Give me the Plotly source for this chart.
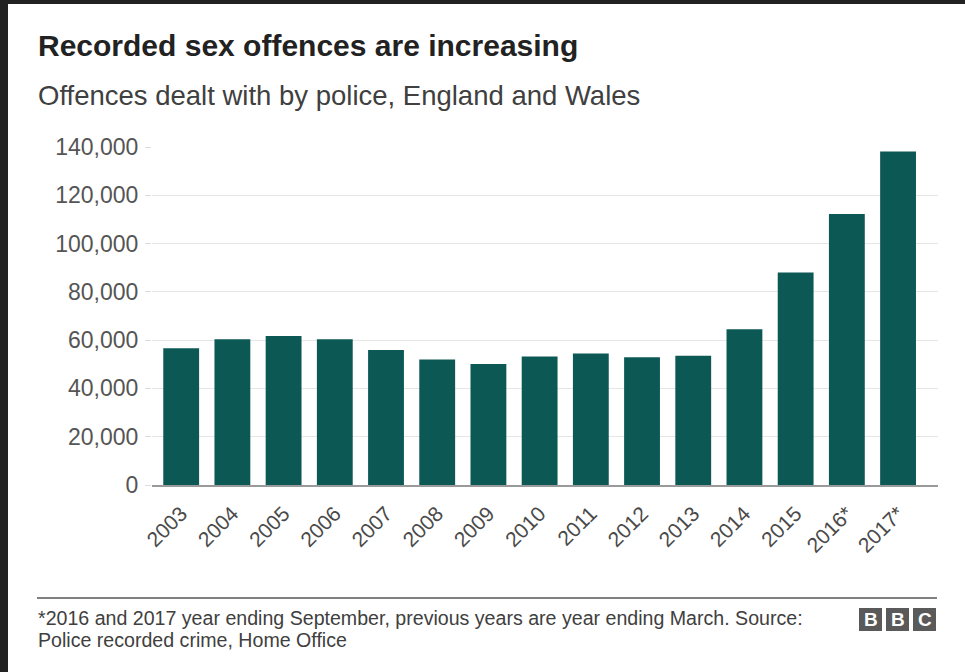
import plotly.graph_objects as go

years = ["2003", "2004", "2005", "2006", "2007", "2008", "2009", "2010",
         "2011", "2012", "2013", "2014", "2015", "2016*", "2017*"]
offences = [56600, 60400, 61700, 60400, 55900, 52000, 50100, 53200,
            54500, 52900, 53500, 64500, 88000, 112300, 138100]
y_ticks = [0, 20000, 40000, 60000, 80000, 100000, 120000, 140000]
y_tick_text = ["0", "20,000", "40,000", "60,000", "80,000", "100,000", "120,000", "140,000"]

W, H = 965, 672
L, R, T, B = 152, 27, 147, 187
PW, PH = W - L - R, H - T - B

def px(x):
    return (x - L) / PW

def py(y):
    return (H - B - y) / PH

BAR = "#0c5854"
FONT = "Liberation Sans, Arial, sans-serif"

fig = go.Figure(go.Bar(
    x=list(range(len(years))), y=offences,
    marker=dict(color=BAR, line=dict(width=0)),
    width=0.7, hoverinfo="skip",
))

fig.update_layout(
    width=W, height=H,
    margin=dict(l=L, r=R, t=T, b=B),
    paper_bgcolor="white", plot_bgcolor="white",
    showlegend=False,
    font=dict(family=FONT),
)
fig.update_xaxes(
    tickmode="array", tickvals=list(range(len(years))), ticktext=years,
    range=[-0.57, 14.78], tickangle=-45,
    tickfont=dict(size=21, color="#4a4a4a", family=FONT),
    ticklabelstandoff=6,
    showline=True, linecolor="#9a9a9a", linewidth=2,
    showgrid=False, ticks="", fixedrange=True,
)
fig.update_yaxes(
    tickmode="array", tickvals=y_ticks, ticktext=y_tick_text,
    range=[0, 140000],
    tickfont=dict(size=23, color="#555555", family=FONT),
    showgrid=True, gridcolor="#e6e6e6", gridwidth=1,
    ticks="outside", ticklen=6, tickcolor="#dddddd",
    ticklabelstandoff=2,
    zeroline=False, showline=False, fixedrange=True,
)

shapes = [
    # dark frame bands
    dict(type="rect", xref="paper", yref="paper", x0=px(0), x1=px(W), y0=py(0), y1=py(4),
         fillcolor="#222222", line=dict(width=0), layer="above"),
    dict(type="rect", xref="paper", yref="paper", x0=px(0), x1=px(8), y0=py(0), y1=py(H),
         fillcolor="#222222", line=dict(width=0), layer="above"),
    # footer rule
    dict(type="line", xref="paper", yref="paper", x0=px(37), x1=px(937), y0=py(598), y1=py(598),
         line=dict(color="#808080", width=2)),
]
annotations = [
    dict(text="<b>Recorded sex offences are increasing</b>", x=px(36), y=py(46),
         xref="paper", yref="paper", xanchor="left", yanchor="middle", showarrow=False,
         font=dict(size=30, color="#222222", family=FONT)),
    dict(text="Offences dealt with by police, England and Wales", x=px(36), y=py(95),
         xref="paper", yref="paper", xanchor="left", yanchor="middle", showarrow=False,
         font=dict(size=27.5, color="#404040", family=FONT)),
    dict(text="*2016 and 2017 year ending September, previous years are year ending March. Source:",
         x=px(36), y=py(618), xref="paper", yref="paper", xanchor="left", yanchor="middle",
         showarrow=False, font=dict(size=19.6, color="#404040", family=FONT)),
    dict(text="Police recorded crime, Home Office",
         x=px(36), y=py(640), xref="paper", yref="paper", xanchor="left", yanchor="middle",
         showarrow=False, font=dict(size=19.6, color="#404040", family=FONT)),
]
for i, letter in enumerate(["B", "B", "C"]):
    x0 = 859 + i * 27
    shapes.append(dict(type="rect", xref="paper", yref="paper",
                       x0=px(x0), x1=px(x0 + 23), y0=py(631), y1=py(608),
                       fillcolor="#5a5a5a", line=dict(width=0)))
    annotations.append(dict(text="<b>%s</b>" % letter, x=px(x0 + 11.5), y=py(619.5),
                            xref="paper", yref="paper", xanchor="center", yanchor="middle",
                            showarrow=False, font=dict(size=19, color="white", family=FONT)))

fig.update_layout(shapes=shapes, annotations=annotations)
fig.write_html("out.html")
